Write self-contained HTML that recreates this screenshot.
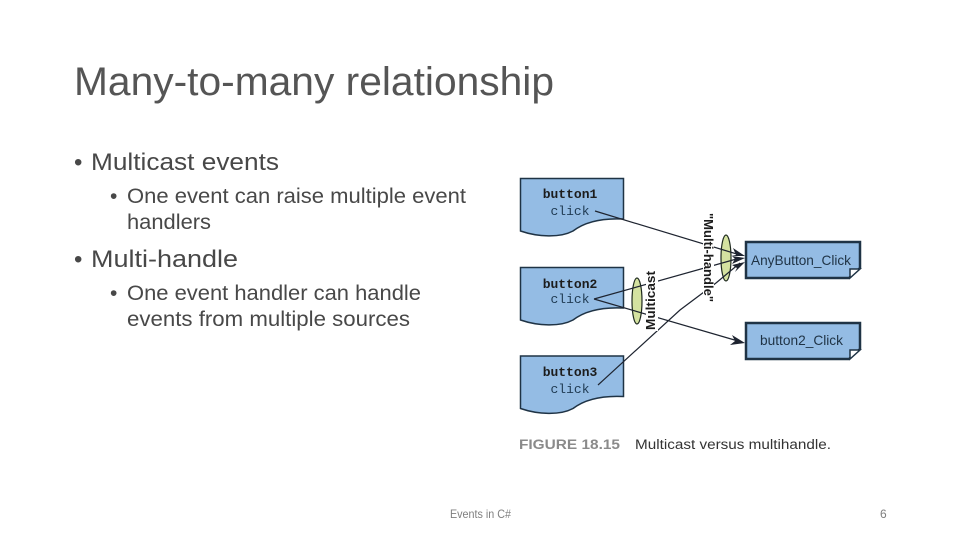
<!DOCTYPE html>
<html><head><meta charset="utf-8"><style>
html,body{margin:0;padding:0;background:#fff;width:960px;height:540px;overflow:hidden}
svg{display:block}
text{font-family:"Liberation Sans",sans-serif}
.t{fill:#484848}
.m{font-family:"Liberation Mono",monospace}
</style></head><body>
<svg width="960" height="540" viewBox="0 0 960 540">
<text x="74" y="95" font-size="40" fill="#555" textLength="480" lengthAdjust="spacingAndGlyphs">Many-to-many relationship</text>
<text class="t" x="74" y="170" font-size="24">•</text>
<text class="t" x="91" y="170" font-size="24" textLength="188" lengthAdjust="spacingAndGlyphs">Multicast events</text>
<text class="t" x="110" y="203" font-size="21">•</text>
<text class="t" x="127" y="203" font-size="21" textLength="339" lengthAdjust="spacingAndGlyphs">One event can raise multiple event</text>
<text class="t" x="127" y="229" font-size="21" textLength="84" lengthAdjust="spacingAndGlyphs">handlers</text>
<text class="t" x="74" y="267" font-size="24">•</text>
<text class="t" x="91" y="267" font-size="24" textLength="147" lengthAdjust="spacingAndGlyphs">Multi-handle</text>
<text class="t" x="110" y="300" font-size="21">•</text>
<text class="t" x="127" y="300" font-size="21" textLength="294" lengthAdjust="spacingAndGlyphs">One event handler can handle</text>
<text class="t" x="127" y="326" font-size="21" textLength="283" lengthAdjust="spacingAndGlyphs">events from multiple sources</text>
<text x="450" y="518" font-size="12" fill="#7f7f7f" textLength="61" lengthAdjust="spacingAndGlyphs">Events in C#</text>
<text x="880" y="518" font-size="12" fill="#7f7f7f">6</text>

<g fill="#94bce4" stroke="#1f3345" stroke-width="1.5">
<path d="M520.500 178.500H623.500V219C603 218 586 221 573 231C560 238 538 237 520.500 231Z"/>
<path d="M520.500 267.500H623.500V308C603 307 586 310 573 320C560 327 538 326 520.500 320Z"/>
<path d="M520.500 356H623.500V396.500C603 395.500 586 398.500 573 408.500C560 415.500 538 414.500 520.500 408.500Z"/>
</g>
<g font-size="13" text-anchor="middle">
<text class="m" x="570" y="198" font-weight="bold" fill="#1c1c1c">button1</text>
<text class="m" x="570" y="215" fill="#1f3a52">click</text>
<text class="m" x="570" y="288" font-weight="bold" fill="#1c1c1c">button2</text>
<text class="m" x="570" y="303" fill="#1f3a52">click</text>
<text class="m" x="570" y="376" font-weight="bold" fill="#1c1c1c">button3</text>
<text class="m" x="570" y="393" fill="#1f3a52">click</text>
</g>

<g fill="#94bce4" stroke="#1f3345" stroke-width="2.500">
<path d="M746 242H860V268L849 278H746Z"/>
<path d="M746 323H860V349L849 359H746Z"/>
</g>
<g fill="#fff" stroke="#1f3345" stroke-width="1.500">
<path d="M860 269H850V278Z"/>
<path d="M860 350H850V359Z"/>
</g>
<text x="751" y="265" font-size="14" fill="#1f3345" textLength="100" lengthAdjust="spacingAndGlyphs">AnyButton_Click</text>
<text x="760" y="345" font-size="14" fill="#1f3345" textLength="83" lengthAdjust="spacingAndGlyphs">button2_Click</text>

<g fill="#d4e2a0" stroke="#1f2a1f" stroke-width="1.200">
<ellipse cx="726" cy="258" rx="5" ry="23"/>
<ellipse cx="637" cy="301" rx="5" ry="23"/>
</g>

<g fill="none" stroke="#1e2430" stroke-width="1.200">
<path d="M595 211L740 255"/>
<path d="M594 299L740 258"/>
<path d="M598 385L680 310L716 283L740 263"/>
<path d="M594 299L738 341"/>
</g>
<g fill="#1e2430">
<path d="M745 256L733 248L736 255L731 256Z"/>
<path d="M745 258L732 256L735 259L732 264Z"/>
<path d="M745 262L732 265L737 268L735 272Z"/>
<path d="M745 343L732 335L735 341L730 345Z"/>
</g>

<rect x="646" y="270" width="12" height="61" fill="#fff"/>
<text transform="translate(655,330) rotate(-90)" font-size="13" font-weight="bold" fill="#1c1c1c" textLength="59" lengthAdjust="spacingAndGlyphs">Multicast</text>
<rect x="703" y="212" width="11" height="92" fill="#fff"/>
<text transform="translate(704,213) rotate(90)" font-size="12.500" font-weight="bold" fill="#1c1c1c" textLength="89" lengthAdjust="spacingAndGlyphs">"Multi-handle"</text>

<text x="519" y="449" font-size="13.500" font-weight="bold" fill="#8a8a8a" textLength="101" lengthAdjust="spacingAndGlyphs">FIGURE 18.15</text>
<text x="635" y="449" font-size="13.500" fill="#333" textLength="196" lengthAdjust="spacingAndGlyphs">Multicast versus multihandle.</text>
</svg>
</body></html>
